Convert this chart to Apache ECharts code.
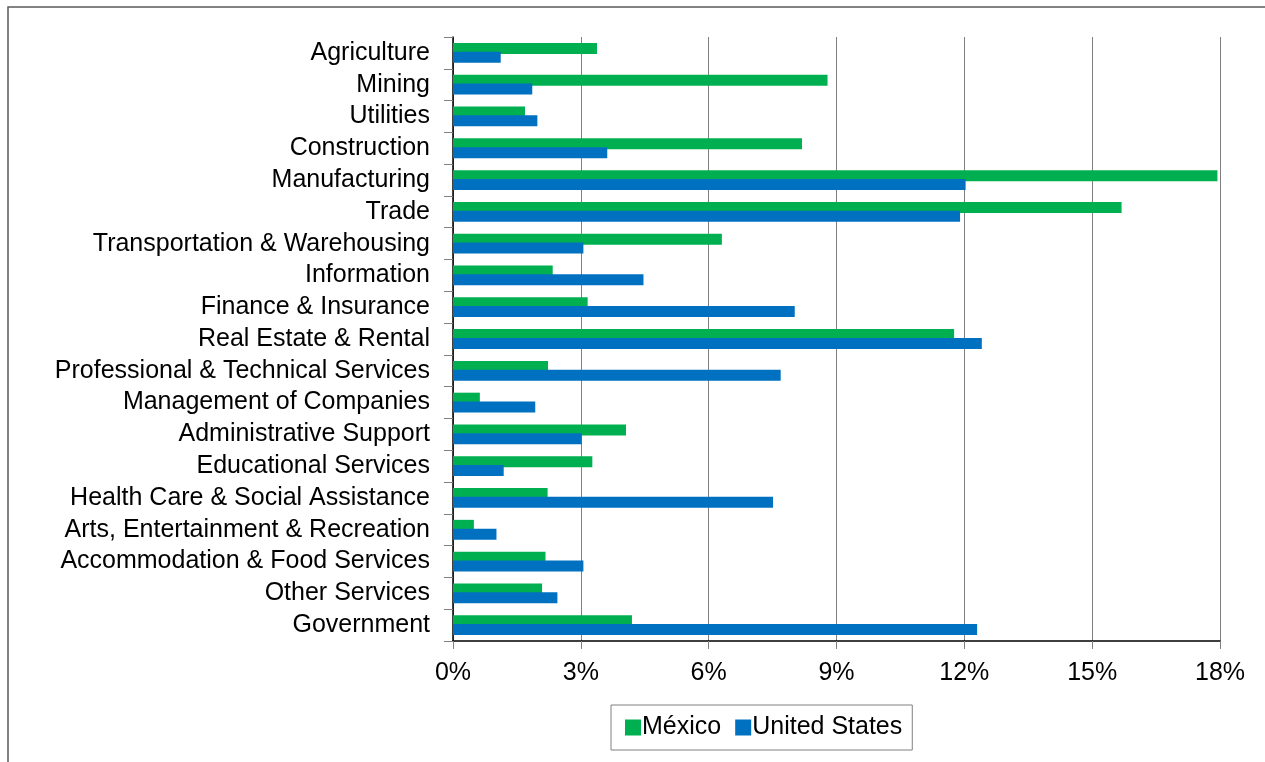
<!DOCTYPE html>
<html>
<head>
<meta charset="utf-8">
<script src="https://cdn.jsdelivr.net/npm/echarts@6/dist/echarts.min.js"></script>
<style>
  html, body { margin: 0; padding: 0; background: #fff; }
  #chart { width: 1265px; height: 762px; }
</style>
</head>
<body>
<div id="chart"></div>
<script>
// Industry categories, top to bottom
const categories = [
  'Agriculture', 'Mining', 'Utilities', 'Construction', 'Manufacturing', 'Trade',
  'Transportation & Warehousing', 'Information', 'Finance & Insurance',
  'Real Estate & Rental', 'Professional & Technical Services',
  'Management of Companies', 'Administrative Support', 'Educational Services',
  'Health Care & Social Assistance', 'Arts, Entertainment & Recreation',
  'Accommodation & Food Services', 'Other Services', 'Government'
];

// Share of GDP by industry (%)
const mexico = [
  3.38, 8.79, 1.69, 8.19, 17.94, 15.69, 6.31, 2.34, 3.16, 11.76, 2.23,
  0.63, 4.06, 3.27, 2.22, 0.49, 2.17, 2.09, 4.20
];
const unitedStates = [
  1.12, 1.86, 1.98, 3.62, 12.03, 11.90, 3.06, 4.47, 8.02, 12.41, 7.69,
  1.93, 3.02, 1.19, 7.51, 1.02, 3.06, 2.45, 12.30
];

// Percent axis ticks
const axisMin = 0;
const axisMax = 18;
const axisStep = 3;

const FONT = '"Liberation Sans", Arial, sans-serif';
const FONT_SIZE = 25;
const chart = echarts.init(document.getElementById('chart'), null, { renderer: 'canvas' });

chart.setOption({
  backgroundColor: '#ffffff',
  animation: false,
  textStyle: { fontFamily: FONT },
  graphic: [{
    type: 'rect',
    shape: { x: 8, y: 7, width: 1400, height: 900 },
    style: { fill: 'none', stroke: '#595959', lineWidth: 1.5 },
    silent: true,
    z: -1
  }],
  grid: { left: 453, right: 45, top: 37, bottom: 121, containLabel: false },
  legend: {
    left: 611,
    top: 705,
    icon: 'rect',
    itemWidth: 16,
    itemHeight: 16,
    itemGap: 14,
    padding: [10, 10, 10, 14],
    borderColor: '#808080',
    borderWidth: 1,
    textStyle: { fontSize: FONT_SIZE, color: '#000', fontFamily: FONT, padding: [0, 0, 0, -4] },
    data: ['México', 'United States']
  },
  xAxis: {
    type: 'value',
    min: axisMin,
    max: axisMax,
    interval: axisStep,
    axisLine: { show: true, lineStyle: { color: '#000', width: 1.5 } },
    axisTick: { show: true, length: 8, lineStyle: { color: '#808080', width: 1 } },
    axisLabel: {
      formatter: '{value}%',
      fontSize: FONT_SIZE,
      color: '#000',
      margin: 20,
      fontFamily: FONT
    },
    splitLine: { show: true, lineStyle: { color: '#808080', width: 1 } }
  },
  yAxis: {
    type: 'category',
    inverse: true,
    data: categories,
    axisLine: { show: true, lineStyle: { color: '#000', width: 1.5 } },
    axisTick: { show: true, interval: 0, length: 9, lineStyle: { color: '#808080', width: 1 } },
    axisLabel: {
      interval: 0,
      fontSize: FONT_SIZE,
      lineHeight: 26,
      color: '#000',
      margin: 23,
      fontFamily: FONT
    },
    splitLine: { show: false }
  },
  series: [
    {
      name: 'México',
      type: 'bar',
      data: mexico,
      barWidth: 11,
      barGap: '-20%',
      itemStyle: { color: '#00B050' }
    },
    {
      name: 'United States',
      type: 'bar',
      data: unitedStates,
      barWidth: 11,
      barGap: '-20%',
      itemStyle: { color: '#0070C0' }
    }
  ]
});
</script>
</body>
</html>
